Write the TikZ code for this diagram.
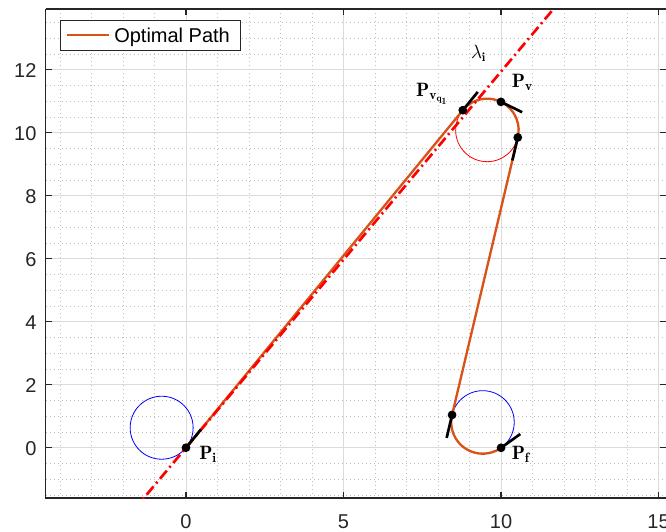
\documentclass[tikz,border=0pt]{standalone}
\usepackage{fontspec}
\newfontfamily\axfont{Liberation Sans}
\usetikzlibrary{calc}
\definecolor{pathorange}{rgb}{0.85,0.325,0.098}
\definecolor{axgray}{rgb}{0.15,0.15,0.15}
\begin{document}
\begin{tikzpicture}[x=23.625pt,y=23.625pt,
  majorgrid/.style={draw=black!14,line width=0.5pt},
  minorgrid/.style={draw=black!26,line width=0.5pt,dash pattern=on 0.75pt off 2.25pt},
  axline/.style={draw=axgray,line width=0.8pt},
  axtick/.style={draw=axgray,line width=0.8pt},
  ticklabel/.style={font=\axfont\fontsize{15}{18}\selectfont,inner sep=0pt,text=axgray},
  optpath/.style={draw=pathorange,line width=1.75pt},
  lambdaline/.style={draw=red,line width=2pt,dash pattern=on 8pt off 3pt on 1.5pt off 3pt},
  turncircle/.style={line width=0.6pt},
  tangseg/.style={draw=black,line width=2pt},
  dotmark/.style={fill=black},
  ptlabel/.style={font=\fontsize{14.5}{17}\selectfont,inner sep=0pt,anchor=base west},
  legendbox/.style={draw=axgray,fill=white,line width=0.5pt,inner sep=0pt,anchor=south west,
    minimum width=134.76pt,minimum height=23.15pt},
]
\def\xl{-4.454}\def\xr{15.238}\def\yb{-1.597}\def\yt{13.927}
\useasboundingbox (-5.905,-2.676) rectangle (15.238,14.213);
\fill[white] (-5.905,-2.676) rectangle (15.238,14.213);

% minor grid
\foreach \x in {-4,-3,-2,-1,1,2,3,4,6,7,8,9,11,12,13,14}
  \draw[minorgrid] (\x,\yb) -- (\x,\yt);
\foreach \y in {-1.5,-1,-0.5,0.5,1,1.5,2.5,3,3.5,4.5,5,5.5,6.5,7,7.5,8.5,9,9.5,10.5,11,11.5,12.5,13,13.5}
  \draw[minorgrid] (\xl,\y) -- (\xr,\y);
% major grid
\foreach \x in {0,5,10,15}
  \draw[majorgrid] (\x,\yb) -- (\x,\yt);
\foreach \y in {0,2,4,6,8,10,12}
  \draw[majorgrid] (\xl,\y) -- (\xr,\y);

% axes
\draw[axline] (\xl,\yt) -- (\xl,\yb) -- (\xr,\yb);
\draw[axline] (\xl,\yt) -- (\xr,\yt);
\foreach \x in {0,5,10,15} {
  \draw[axtick] (\x,\yb) -- ++(0,0.2);
  \draw[axtick] (\x,\yt) -- ++(0,-0.2);
  \node[ticklabel,anchor=base] (xt\x) at (\x,-2.559) {\x};
}
\foreach \y in {0,2,4,6,8,10,12} {
  \draw[axtick] (\xl,\y) -- ++(0.2,0);
  \draw[axtick] (\xr,\y) -- ++(-0.2,0);
  \node[ticklabel,anchor=base east] (yt\y) at (-4.74,\y-0.263) {\y};
}

% geometry
\coordinate (Pi) at (0,0);
\coordinate (C0) at (140.65:1);
\coordinate (C1) at (9.56,10.08);
\coordinate (C2) at (9.42,0.81);
\coordinate (Pvq1) at ($(C1)+(140.65:1)$);
\coordinate (Pv) at ($(C1)+(64:1)$);
\coordinate (T) at ($(C1)+(346.67:1)$);
\coordinate (Q) at ($(C2)+(166.67:1)$);
\coordinate (Pf) at ($(C2)+(305.6:1)$);
\coordinate (Ls) at (230.05:2.6);
\coordinate (Le) at (50.05:19);

\begin{scope}
\clip (\xl,\yb) rectangle (\xr,\yt);
\draw[turncircle,blue] (C0) circle[radius=1];
\draw[turncircle,red] (C1) circle[radius=1];
\draw[turncircle,blue] (C2) circle[radius=1];
\draw[optpath] (Pi) -- (Pvq1) arc[start angle=140.65,end angle=-13.33,radius=1]
  -- (Q) arc[start angle=166.67,end angle=305.6,radius=1];
\draw[lambdaline] (Ls) -- (Le);
\draw[tangseg] (Pi) -- ++(50.65:0.75);
\draw[tangseg] (Pvq1) -- ++(50.65:0.75);
\draw[tangseg] (Pv) -- ++(-26:0.75);
\draw[tangseg] (T) -- ++(256.67:0.75);
\draw[tangseg] (Q) -- ++(256.67:0.75);
\draw[tangseg] (Pf) -- ++(35.6:0.75);
\foreach \p in {Pi,Pvq1,Pv,T,Q,Pf}
  \fill[dotmark] (\p) circle[radius=3.3pt];
\end{scope}

% labels
\node[ptlabel] (lPi) at (0.413,-0.368) {$\mathbf{P_i}$};
\node[ptlabel] (lPf) at (10.333,-0.375) {$\mathbf{P_f}$};
\node[ptlabel] (lPv) at (10.34,11.44) {$\mathbf{P_v}$};
\node[ptlabel] (lPvq) at (7.30,11.14) {$\mathbf{P_{v_{q_1}}}$};
\node[ptlabel,font=\fontsize{13.5}{16}\selectfont] (llam) at (9.04,12.36) {$\lambda_{\mathbf{i}}$};

% legend
\node[legendbox] (legend) at (-3.99,12.59) {};
\coordinate (lg1) at (-3.79,13.10);
\coordinate (lg2) at (-2.44,13.10);
\draw[optpath] (lg1) -- (lg2);
\node[ticklabel,anchor=base west,text=black] (legtext) at (-2.286,12.857) {Optimal Path};
\end{tikzpicture}
\end{document}
